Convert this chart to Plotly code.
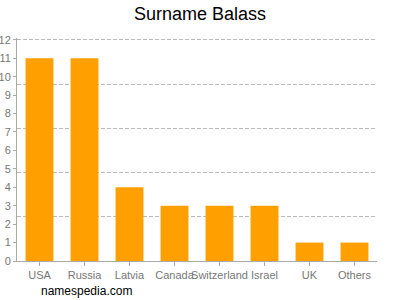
import plotly.graph_objects as go

countries = ["USA", "Russia", "Latvia", "Canada", "Switzerland", "Israel", "UK", "Others"]
counts = [11, 11, 4, 3, 3, 3, 1, 1]
y_ticks = list(range(0, 13))
grid_vals = [2.4, 4.8, 7.2, 9.6, 12]

fig = go.Figure()
fig.add_trace(go.Bar(x=countries, y=counts, marker_color="#FFA000", width=0.62,
                     marker_line_width=0, hoverinfo="skip"))
fig.add_trace(go.Scatter(x=countries, y=[None]*len(countries), yaxis="y2", showlegend=False))

fig.update_layout(
    width=400, height=300,
    margin=dict(l=17, r=23, t=38, b=39, autoexpand=False),
    paper_bgcolor="white", plot_bgcolor="white",
    showlegend=False,
    title=dict(text="Surname Balass", x=0.5, xanchor="center", y=0.955, yanchor="middle",
               font=dict(family="Arial, Liberation Sans", size=18, color="black")),
    font=dict(family="Arial, Liberation Sans", size=11, color="#777"),
    xaxis=dict(showline=True, linecolor="#aaa", linewidth=1, ticks="outside", ticklen=4,
               tickcolor="#aaa", showgrid=False, tickfont=dict(size=11, color="#777"),
               range=[-0.5, 7.5], tickangle=0, automargin=False),
    yaxis=dict(range=[0, 12.1], tickvals=grid_vals, showgrid=True, gridcolor="#bbb",
               griddash="4px,2px", gridwidth=1, showticklabels=False, ticks="",
               showline=False, zeroline=False, automargin=False),
    yaxis2=dict(range=[0, 12.1], overlaying="y", side="left", tickvals=y_ticks, showgrid=False,
                ticks="outside", ticklen=3, tickcolor="#aaa", zeroline=False, showline=True,
                linecolor="#aaa", tickfont=dict(size=11, color="#777"), automargin=False),
    annotations=[dict(text="namespedia.com", xref="paper", yref="paper", x=0.06, y=-0.095,
                      xanchor="left", yanchor="top", showarrow=False,
                      font=dict(family="Arial, Liberation Sans", size=12, color="black"))],
    bargap=0.38,
)
fig.write_html("out.html")
